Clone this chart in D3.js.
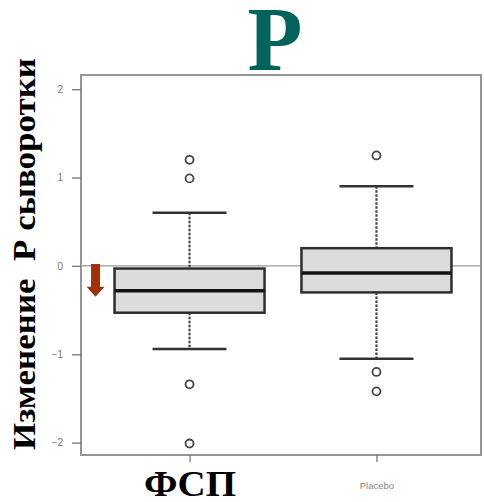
<!DOCTYPE html>
<html>
<head>
<meta charset="utf-8">
<script src="https://cdn.jsdelivr.net/npm/d3@7"></script>
<style>
  body { margin: 0; background: #fff; }
  svg { display: block; }
</style>
</head>
<body>
<svg id="chart"></svg>
<script>
// values
const groups = ["ФСП", "Placebo"];
const q1 = [-0.53, -0.30];
const medians = [-0.28, -0.08];
const q3 = [-0.03, 0.20];
const whiskerLow = [-0.94, -1.05];
const whiskerHigh = [0.60, 0.90];
const outliers = [[1.20, 0.99, -1.34, -2.01], [1.25, -1.20, -1.42]];
const yTicks = [-2, -1, 0, 1, 2];

const width = 484, height = 502;
const frame = { left: 81, right: 481, top: 75, bottom: 455 };

const svg = d3.select("#chart")
    .attr("width", width)
    .attr("height", height);

const x = d3.scalePoint()
    .domain(groups)
    .range([frame.left + 2, frame.right + 2])
    .padding(0.57);

const y = d3.scaleLinear()
    .domain([-2.14, 2.16])
    .range([frame.bottom, frame.top]);

const boxWidth = 150, capWidth = 74;

// frame
svg.append("rect")
    .attr("x", frame.left)
    .attr("y", frame.top)
    .attr("width", frame.right - frame.left)
    .attr("height", frame.bottom - frame.top)
    .attr("fill", "#fff")
    .attr("stroke", "#8a8a8a")
    .attr("stroke-width", 1.8);

// axes
const yAxis = svg.append("g")
    .attr("transform", `translate(${frame.left},0)`)
    .call(d3.axisLeft(y).tickValues(yTicks).tickSize(9).tickPadding(9).tickFormat(d3.format("d")));
yAxis.select(".domain").remove();
yAxis.selectAll(".tick line").attr("stroke", "#777").attr("stroke-width", 1.3);
yAxis.selectAll(".tick text")
    .attr("fill", "#777")
    .style("font-family", "Liberation Sans, Arial, sans-serif")
    .style("font-size", "10px");

const xAxis = svg.append("g")
    .attr("transform", `translate(0,${frame.bottom})`)
    .call(d3.axisBottom(x).tickSize(7).tickPadding(20));
xAxis.select(".domain").remove();
xAxis.selectAll(".tick line").attr("stroke", "#777").attr("stroke-width", 1.3);
xAxis.selectAll(".tick text")
    .attr("fill", "#888")
    .style("font-family", "Liberation Sans, Arial, sans-serif")
    .style("font-size", "9.5px");
xAxis.selectAll(".tick text")
    .filter(d => d === "ФСП")
    .attr("dy", null)
    .attr("y", 41)
    .attr("fill", "#000")
    .attr("textLength", 92)
    .attr("lengthAdjust", "spacingAndGlyphs")
    .style("font-family", "Liberation Serif, Times New Roman, serif")
    .style("font-weight", "bold")
    .style("font-size", "35px");

// zero reference line
svg.append("line")
    .attr("x1", frame.left)
    .attr("x2", frame.right)
    .attr("y1", y(0))
    .attr("y2", y(0))
    .attr("stroke", "#999")
    .attr("stroke-width", 1.2);

const data = groups.map((g, i) => ({
    group: g, q1: q1[i], median: medians[i], q3: q3[i],
    lo: whiskerLow[i], hi: whiskerHigh[i], out: outliers[i]
}));

const box = svg.selectAll(".box")
    .data(data)
    .enter()
    .append("g")
    .attr("class", "box");

// dashed whiskers
box.append("line")
    .attr("x1", d => x(d.group)).attr("x2", d => x(d.group))
    .attr("y1", d => y(d.hi)).attr("y2", d => y(d.q3))
    .attr("stroke", "#444").attr("stroke-width", 2.2).attr("stroke-dasharray", "2.5,1.5");
box.append("line")
    .attr("x1", d => x(d.group)).attr("x2", d => x(d.group))
    .attr("y1", d => y(d.q1)).attr("y2", d => y(d.lo))
    .attr("stroke", "#444").attr("stroke-width", 2.2).attr("stroke-dasharray", "2.5,1.5");

// caps
["hi", "lo"].forEach(k => {
    box.append("line")
        .attr("x1", d => x(d.group) - capWidth / 2)
        .attr("x2", d => x(d.group) + capWidth / 2)
        .attr("y1", d => y(d[k]))
        .attr("y2", d => y(d[k]))
        .attr("stroke", "#333")
        .attr("stroke-width", 2.5);
});

box.append("rect")
    .attr("x", d => x(d.group) - boxWidth / 2)
    .attr("y", d => y(d.q3))
    .attr("width", boxWidth)
    .attr("height", d => y(d.q1) - y(d.q3))
    .attr("fill", "#dcdcdc")
    .attr("stroke", "#2e2e2e")
    .attr("stroke-width", 2.5);

box.append("line")
    .attr("x1", d => x(d.group) - boxWidth / 2)
    .attr("x2", d => x(d.group) + boxWidth / 2)
    .attr("y1", d => y(d.median))
    .attr("y2", d => y(d.median))
    .attr("stroke", "#111")
    .attr("stroke-width", 3.5);

box.selectAll(".outlier")
    .data(d => d.out.map(v => ({ group: d.group, v })))
    .enter()
    .append("circle")
    .attr("class", "outlier")
    .attr("cx", d => x(d.group))
    .attr("cy", d => y(d.v))
    .attr("r", 4)
    .attr("fill", "#fff")
    .attr("stroke", "#444")
    .attr("stroke-width", 1.8);

// red arrow pointing down, next to the ФСП box
const ax = x(groups[0]) - boxWidth / 2 - 19;
const aTop = y(0.02), aBottom = y(-0.35), headH = 10;
svg.append("path")
    .attr("d", `M${ax - 4.5},${aTop} L${ax + 4.5},${aTop} L${ax + 4.5},${aBottom - headH}
        L${ax + 9},${aBottom - headH} L${ax},${aBottom} L${ax - 9},${aBottom - headH}
        L${ax - 4.5},${aBottom - headH} Z`)
    .attr("fill", "#a0300c");

// title
svg.append("text")
    .attr("x", 275)
    .attr("y", 70)
    .attr("text-anchor", "middle")
    .attr("fill", "#02635d")
    .style("font-family", "Liberation Serif, Times New Roman, serif")
    .style("font-weight", "bold")
    .style("font-size", "90px")
    .text("Р");

// y label
svg.append("text")
    .attr("transform", "translate(35,254) rotate(-90)")
    .attr("text-anchor", "middle")
    .attr("fill", "#000")
    .attr("textLength", 392)
    .attr("lengthAdjust", "spacingAndGlyphs")
    .style("font-family", "Liberation Serif, Times New Roman, serif")
    .style("font-weight", "bold")
    .style("font-size", "31px")
    .style("white-space", "pre")
    .text("Изменение  Р сыворотки");
</script>
</body>
</html>
